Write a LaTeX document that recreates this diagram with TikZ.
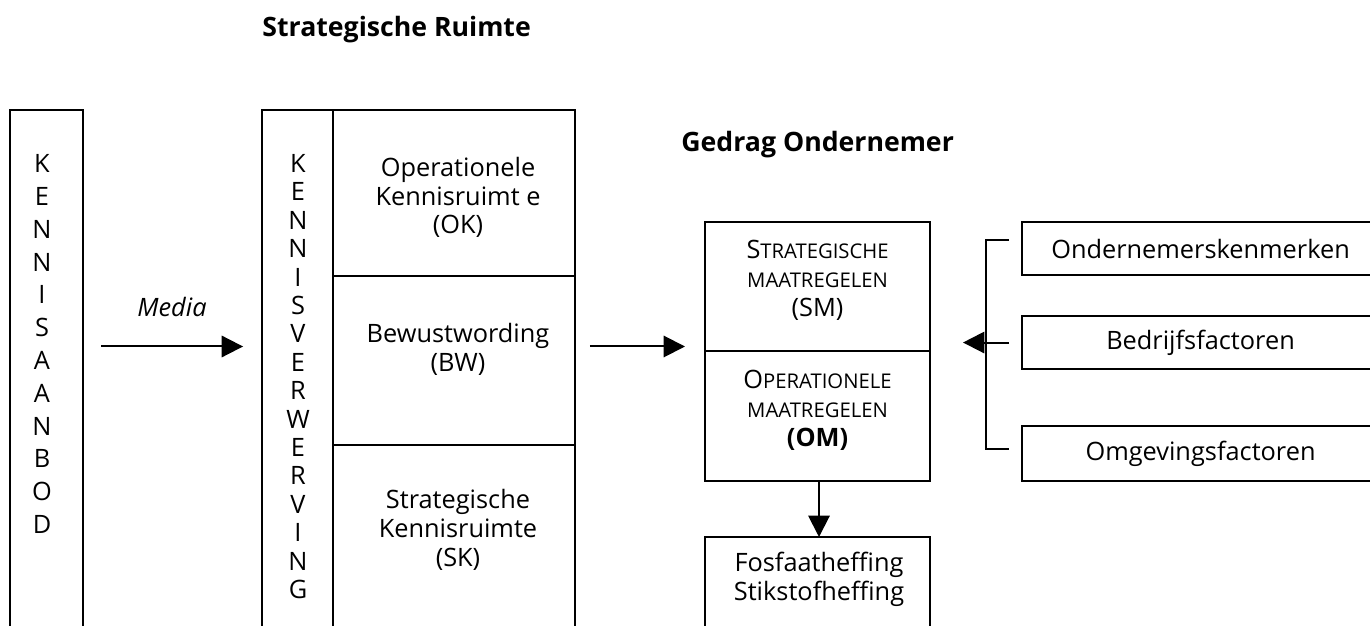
\documentclass[tikz,border=0pt]{standalone}
\usepackage{fontspec}
\setmainfont{Open Sans}
\usetikzlibrary{arrows.meta}
\usetikzlibrary{positioning}
\newcommand{\smallc}[1]{{\fontsize{7.6pt}{10.8pt}\selectfont #1}}
\tikzset{x=0.375pt, y=-0.375pt, % one unit is one pixel of the scan
every node/.style={font=\fontsize{9.5pt}{10.8pt}\selectfont},
cell/.style={ % boxes and column cells
draw,
line width=0.75pt,
inner sep=0pt,
outer sep=0pt},
letters/.style={align=center, font=\fontsize{9.5pt}{12.3pt}\selectfont},
title/.style={anchor=west, font=\fontsize{10pt}{12pt}\selectfont\bfseries},
arr/.style={ % connectors with a filled head
line width=0.75pt,
-{Triangle[length=8pt, width=8pt]}}}

\begin{document}
\begin{tikzpicture}
\useasboundingbox (0,0) rectangle (1370,626);
\clip (0,0) rectangle (1370,626);
\node[title] (ruimte) at (253,30) {Strategische Ruimte};
\node[title] (gedrag) at (672,145) {Gedrag Ondernemer};

% kennisaanbod
\node[cell, anchor=north west, minimum width=27.4pt, minimum height=213.75pt] (aanbod) at (10,110) {};
\node[letters] (aanbodtxt) at (42,344) {K\\E\\N\\N\\I\\S\\A\\A\\N\\B\\O\\D};
\node[font=\fontsize{9.5pt}{10.8pt}\selectfont\itshape] (media) at (172,307) {Media};

% kennisverwerving
\node[cell, anchor=north west, minimum width=26.6pt, minimum height=213.75pt] (kv) at (262,110) {};
\node[letters, font=\fontsize{9.5pt}{10.65pt}\selectfont] (kvtxt) at (298,376.5) {K\\E\\N\\N\\I\\S\\V\\E\\R\\W\\E\\R\\V\\I\\N\\G};
\node[cell, anchor=north west, minimum width=90.75pt, minimum height=62.25pt] (ok) at (kv.north east) {};
\node[cell, below=0pt of ok, minimum width=90.75pt, minimum height=63.4pt] (bw) {};
\node[cell, below=0pt of bw, minimum width=90.75pt, minimum height=88.1pt] (sk) {};
\node[align=center] (oktxt) at (458,197.5) {Operationele\\Kennisruimt e\\(OK)};
\node[align=center] (bwtxt) at (458,349) {Bewustwording\\(BW)};
\node[align=center] (sktxt) at (458,530) {Strategische\\Kennisruimte\\(SK)};

% gedrag ondernemer
\node[cell, anchor=north west, minimum width=84.4pt, minimum height=48.4pt, align=center, text depth=6pt] (sm) at (705,222)
{S\smallc{TRATEGISCHE}\\\smallc{MAATREGELEN}\\(SM)};
\node[cell, below=0pt of sm, minimum width=84.4pt, minimum height=48.75pt, align=center, text depth=6pt] (om)
{O\smallc{PERATIONELE}\\\smallc{MAATREGELEN}\\\textbf{(OM)}};
\node[cell, anchor=north west, minimum width=84.4pt, minimum height=61.1pt] (heffing) at (705,537) {};
\node[align=center] (heffingtxt) at (819,579) {Fosfaatheffing\\Stikstofheffing};

% factoren
\node[cell, anchor=north west, minimum width=133.9pt, minimum height=19.9pt] (ondern) at (1022,222) {Ondernemerskenmerken};
\node[cell, anchor=north west, minimum width=133.9pt, minimum height=19.9pt] (bedrijf) at (1022,316) {Bedrijfsfactoren};
\node[cell, anchor=north west, minimum width=133.9pt, minimum height=20.6pt] (omgev) at (1022,426) {Omgevingsfactoren};

\coordinate (mid) at (0,346.5);
\draw[arr, shorten <=6.75pt, shorten >=7.1pt] (aanbod.east |- mid) -- (kv.west |- mid);
\draw[arr, shorten <=5.6pt, shorten >=7.5pt] (sk.east |- mid) -- (sm.west |- mid);
\draw[arr] (om.south -| heffingtxt) -- (heffing.north -| heffingtxt);
\draw[line width=0.75pt] ([shift={(-13,-8.5)}]ondern.west) -| ([shift={(-36,0)}]bedrijf.west)
|- ([shift={(-13,-4.5)}]omgev.west);
\draw[arr] ([shift={(-13,0)}]bedrijf.west) -- ([shift={(-59,0)}]bedrijf.west);
\end{tikzpicture}
\end{document}
